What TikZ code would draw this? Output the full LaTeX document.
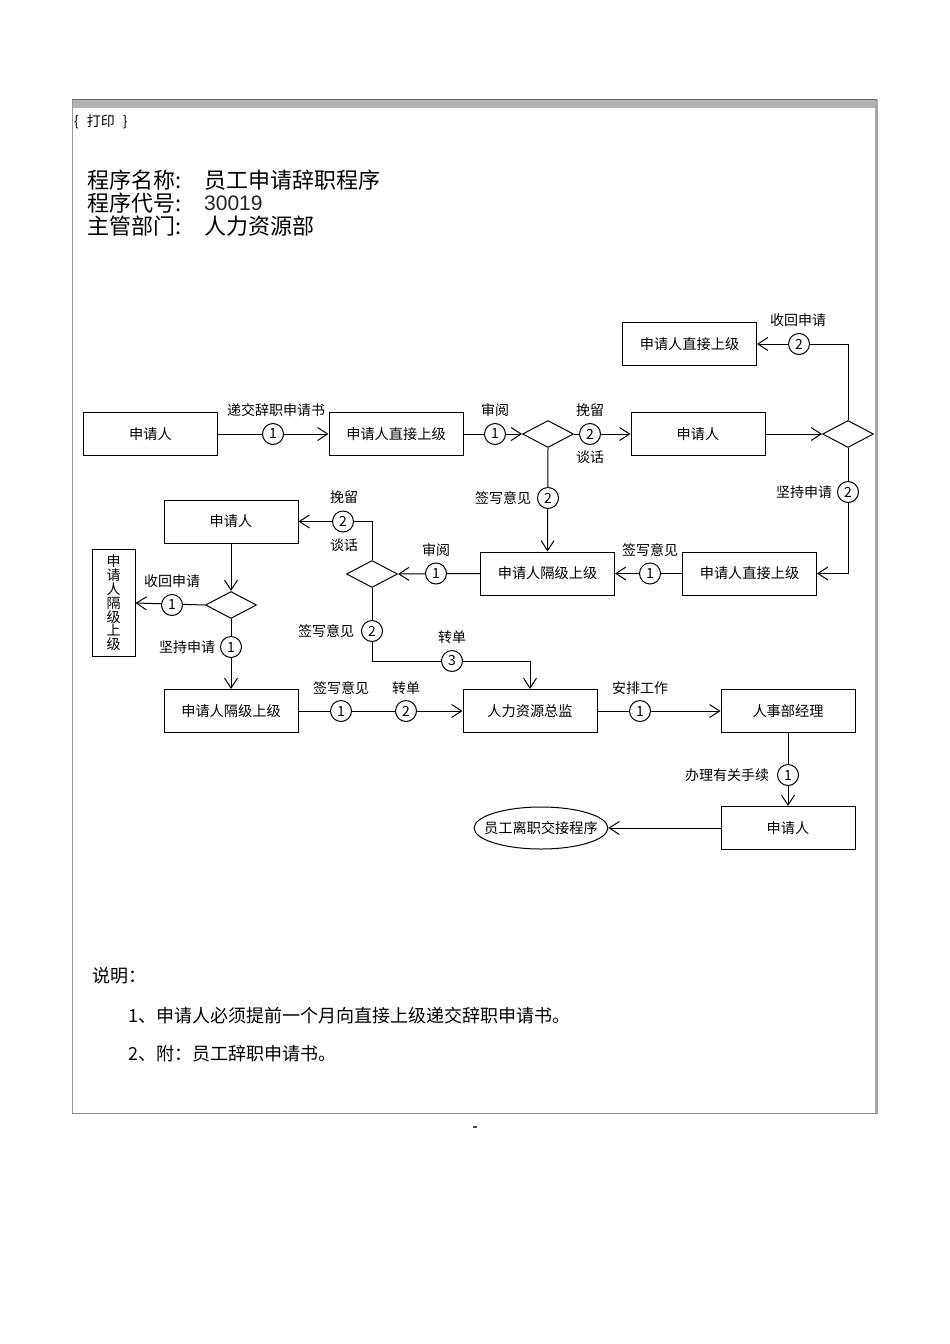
\documentclass[tikz,border=0pt]{standalone}
\usepackage{fontspec}
\setmainfont{Noto Sans CJK SC}
\newfontfamily\latinfont{Liberation Sans}
\usetikzlibrary{shapes.geometric,arrows.meta}
\begin{document}
\begin{tikzpicture}[x=1pt,y=-1pt,
  box/.style={draw,line width=1pt,minimum width=134pt,minimum height=43pt,inner sep=0pt,font=\fontsize{14.2}{16}\selectfont},
  dia/.style={diamond,draw,line width=1pt,minimum width=51pt,minimum height=27pt,inner sep=0pt},
  num/.style={circle,draw,line width=1pt,fill=white,minimum size=21pt,inner sep=0pt,font=\fontsize{14}{14}\selectfont},
  lbl/.style={inner sep=0pt,font=\fontsize{14}{14}\selectfont},
  arr/.style={line width=1pt,-{Straight Barb[length=10pt,width=13pt]}},
  ln/.style={line width=1pt}]
\useasboundingbox (0,0) rectangle (950,1344);
\fill[white] (0,0) rectangle (950,1344);
% frame
\fill[black!30] (72,99) rectangle (877,108);
\draw[black!60,line width=1.2pt] (72,99.5) -- (877,99.5);
\draw[black!40,line width=1.5pt] (72.5,100) -- (72.5,1114);
\draw[black!35,line width=2.2pt] (876.5,100) -- (876.5,1114);
\draw[black!45,line width=1.5pt] (72,1113.5) -- (877.5,1113.5);
\draw[black!70,line width=1.5pt] (473,1127) -- (477,1127);
% header
\node[anchor=west,inner sep=0pt,font=\fontsize{14}{14}\selectfont] (print) at (74,122) {\{\hspace{8pt}打印\hspace{8pt}\}};
\node[anchor=west,inner sep=0pt,font=\fontsize{22}{22}\selectfont] (h1) at (87,180) {程序名称:};
\node[anchor=west,inner sep=0pt,font=\fontsize{22}{22}\selectfont] (v1) at (204,180) {员工申请辞职程序};
\node[anchor=west,inner sep=0pt,font=\fontsize{22}{22}\selectfont] (h2) at (87,203) {程序代号:};
\node[anchor=west,inner sep=0pt,font=\latinfont\fontsize{21}{21}\selectfont,text=black!85] (v2) at (204,203) {30019};
\node[anchor=west,inner sep=0pt,font=\fontsize{22}{22}\selectfont] (h3) at (87,226) {主管部门:};
\node[anchor=west,inner sep=0pt,font=\fontsize{22}{22}\selectfont] (v3) at (204,226) {人力资源部};
% nodes
\node[box] (A1) at (150.5,434) {申请人};
\node[box] (B1) at (396,434) {申请人直接上级};
\node[dia] (D1) at (548,434) {};
\node[box] (C1) at (698,434) {申请人};
\node[dia] (D2) at (848,434) {};
\node[box] (T1) at (689.5,344) {申请人直接上级};
\node[box] (E1) at (749.5,573.5) {申请人直接上级};
\node[box] (F1) at (547.5,573.5) {申请人隔级上级};
\node[dia] (D3) at (372,574) {};
\node[box] (G1) at (231,521.5) {申请人};
\node[dia] (D4) at (231,605) {};
\node[draw,line width=1pt,minimum width=43pt,minimum height=107pt,inner sep=0pt,align=center,font=\fontsize{14}{13.8}\selectfont] (H1) at (113.5,603) {申\\请\\人\\隔\\级\\上\\级};
\node[box] (I1) at (231,711) {申请人隔级上级};
\node[box] (J1) at (530,711) {人力资源总监};
\node[box] (K1) at (788,711) {人事部经理};
\node[box] (L1) at (788,828) {申请人};
\node[ellipse,draw,line width=1pt,minimum width=10pt,minimum height=42pt,inner xsep=-9.5pt,inner ysep=0pt,font=\fontsize{14.2}{16}\selectfont] (M1) at (541,828) {员工离职交接程序};
\coordinate (t15) at (530,661);
% connectors
\draw[arr] (A1.east) -- (B1.west);
\draw[arr] (B1.east) -- (D1.west);
\draw[arr] (D1.east) -- (C1.west);
\draw[arr] (C1.east) -- (D2.west);
\draw[arr] (D2.north) |- (T1.east);
\draw[arr] (D2.south) |- (E1.east);
\draw[arr] (E1.west) -- (F1.east);
\draw[arr] (D1.south) -- (F1.north);
\draw[arr] (F1.west) -- (D3.east);
\draw[arr] (D3.north) |- (G1.east);
\draw[arr] (G1.south) -- (D4.north);
\draw[arr] (D4.west) -- (H1.east);
\draw[arr] (D4.south) -- (I1.north);
\draw[arr] (I1.east) -- (J1.west);
\draw[arr] (D3.south) |- (t15) -- (J1.north);
\draw[arr] (J1.east) -- (K1.west);
\draw[arr] (K1.south) -- (L1.north);
\draw[arr] (L1.west) -- (M1.east);
% numbered circles and labels
\node[num] (n1) at (273,434) {1};
\node[lbl] at (276,410) {递交辞职申请书};
\node[num] (n2) at (495,434) {1};
\node[lbl] at (495,410) {审阅};
\node[num] (n3) at (590,434) {2};
\node[lbl] at (590,410) {挽留};
\node[lbl] at (590,457) {谈话};
\node[num] (n4) at (799,344) {2};
\node[lbl] at (798,320) {收回申请};
\node[num] (n5) at (848,492) {2};
\node[lbl] at (804,492) {坚持申请};
\node[num] (n6) at (650,573.5) {1};
\node[lbl] at (650,550) {签写意见};
\node[num] (n7) at (548,498) {2};
\node[lbl] at (503,498) {签写意见};
\node[num] (n8) at (436,573.5) {1};
\node[lbl] at (436,550) {审阅};
\node[num] (n9) at (343,521.5) {2};
\node[lbl] at (344,497) {挽留};
\node[lbl] at (344,545) {谈话};
\node[num] (n10) at (172,605) {1};
\node[lbl] at (172,581) {收回申请};
\node[num] (n11) at (231,647) {1};
\node[lbl] at (187,647) {坚持申请};
\node[num] (n12) at (341,711) {1};
\node[lbl] at (341,688) {签写意见};
\node[num] (n13) at (406,711) {2};
\node[lbl] at (406,688) {转单};
\node[num] (n14) at (372,631) {2};
\node[lbl] at (326,631) {签写意见};
\node[num] (n15) at (452,661) {3};
\node[lbl] at (452,637) {转单};
\node[num] (n16) at (640,711) {1};
\node[lbl] at (640,688) {安排工作};
\node[num] (n17) at (788,775) {1};
\node[lbl] at (727,775) {办理有关手续};
% notes
\node[anchor=west,inner sep=0pt,font=\fontsize{18}{18}\selectfont] (s0) at (92,976) {说明：};
\node[anchor=west,inner sep=0pt,font=\fontsize{18}{18}\selectfont] (s1) at (128,1016) {1、申请人必须提前一个月向直接上级递交辞职申请书。};
\node[anchor=west,inner sep=0pt,font=\fontsize{18}{18}\selectfont] (s2) at (128,1054) {2、附：员工辞职申请书。};
\end{tikzpicture}
\end{document}
